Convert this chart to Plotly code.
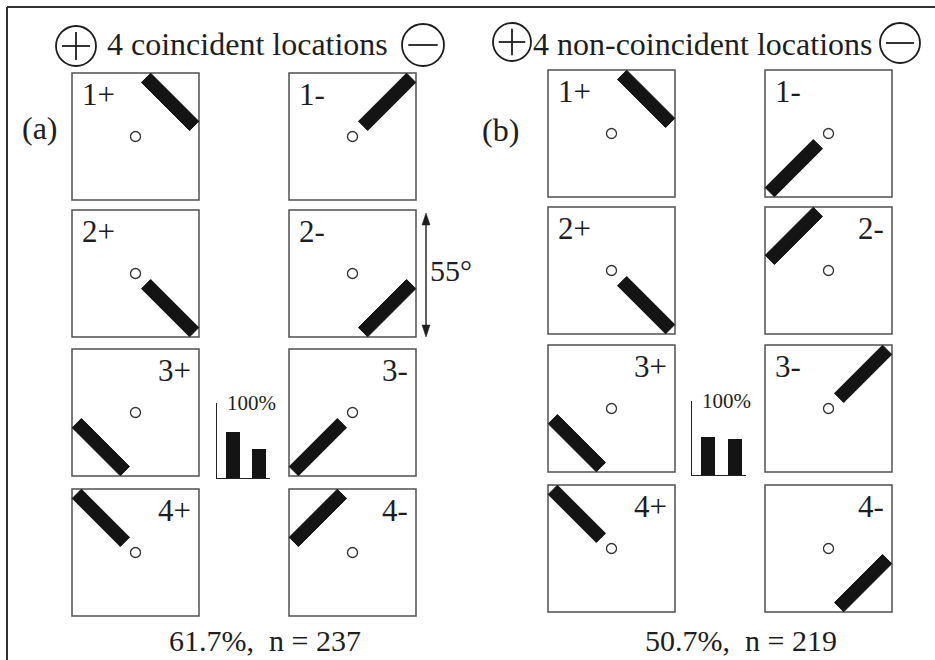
import math
import plotly.graph_objects as go

# ---------------- data ----------------
panel_letters = ["(a)", "(b)"]
panel_titles = ["4 coincident locations", "4 non-coincident locations"]

condition_labels = ["1+", "1-", "2+", "2-", "3+", "3-", "4+", "4-"]

coincident_quadrant = ["UR", "UR", "LR", "LR", "LL", "LL", "UL", "UL"]
coincident_orientation = ["tangential", "radial", "radial", "tangential",
                          "tangential", "radial", "radial", "tangential"]
coincident_label_side = ["left", "left", "left", "left", "right", "right", "right", "right"]

noncoincident_quadrant = ["UR", "LL", "LR", "UL", "LL", "UR", "UL", "LR"]
noncoincident_orientation = ["tangential", "radial", "radial", "tangential",
                             "tangential", "radial", "radial", "tangential"]
noncoincident_label_side = ["left", "left", "left", "right", "right", "left", "right", "right"]

coincident_bar_values = [61.7, 38.3]
noncoincident_bar_values = [50.7, 49.3]
bar_categories = [0, 1]

summary_percent = [61.7, 50.7]
summary_n = [237, 219]
field_size_label = "55°"
bar_scale_label = "100%"

# ---------------- layout constants ----------------
W, H = 935, 660
BOX = 127
grid_x = [[72, 289], [548, 765]]
grid_y = [[73, 210, 349, 489], [70, 207, 345, 485]]
mini_axes = [dict(x0=217, x1=270, y0=403, y1=478), dict(x0=692, x1=746, y0=401, y1=475)]

FONT = "Liberation Serif, Times New Roman, serif"
INK = "#1e1e1e"
BOXLINE = "#505050"

QVEC = {"UR": (1, -1), "LR": (1, 1), "LL": (-1, 1), "UL": (-1, -1)}

fig = go.Figure()
shapes = []
annotations = []

def bar_path(cx, cy, ux, uy, hl=34, hw=6.5):
    vx, vy = -uy, ux
    pts = [(cx + ux * hl + vx * hw, cy + uy * hl + vy * hw),
           (cx + ux * hl - vx * hw, cy + uy * hl - vy * hw),
           (cx - ux * hl - vx * hw, cy - uy * hl - vy * hw),
           (cx - ux * hl + vx * hw, cy - uy * hl + vy * hw)]
    return "M " + " L ".join(f"{x:.2f},{y:.2f}" for x, y in pts) + " Z"

panels = [
    (coincident_quadrant, coincident_orientation, coincident_label_side),
    (noncoincident_quadrant, noncoincident_orientation, noncoincident_label_side),
]

fix_x, fix_y = [], []
for p, (quads, orients, sides) in enumerate(panels):
    for i, lab in enumerate(condition_labels):
        row, col = i // 2, i % 2
        left = grid_x[p][col]
        top = grid_y[p][row]
        shapes.append(dict(type="rect", xref="x", yref="y", x0=left, x1=left + BOX,
                           y0=top, y1=top + BOX, line=dict(color=BOXLINE, width=1.5)))
        cx, cy = left + BOX / 2, top + BOX / 2
        fix_x.append(cx)
        fix_y.append(cy)
        dx, dy = QVEC[quads[i]]
        n = math.hypot(dx, dy)
        dx, dy = dx / n, dy / n
        if orients[i] == "radial":
            ux, uy = dx, dy
        else:
            ux, uy = -dy, dx
        bx, by = cx + 49 * dx, cy + 49 * dy
        shapes.append(dict(type="path", xref="x", yref="y", path=bar_path(bx, by, ux, uy),
                           fillcolor="#141414", line=dict(color="#141414", width=1)))
        if sides[i] == "left":
            annotations.append(dict(x=left + 8, y=top + 21, xref="x", yref="y", text=lab,
                                    xanchor="left", yanchor="middle", showarrow=False,
                                    font=dict(family=FONT, size=31, color=INK)))
        else:
            annotations.append(dict(x=left + BOX - 6, y=top + 21, xref="x", yref="y", text=lab,
                                    xanchor="right", yanchor="middle", showarrow=False,
                                    font=dict(family=FONT, size=31, color=INK)))

# fixation points
fig.add_trace(go.Scatter(x=fix_x, y=fix_y, mode="markers", xaxis="x", yaxis="y",
                         marker=dict(symbol="circle-open", size=10, color="#333",
                                     line=dict(width=1.3, color="#333")),
                         hoverinfo="skip", showlegend=False))

# mini bar charts
for p, vals in enumerate([coincident_bar_values, noncoincident_bar_values]):
    ax = mini_axes[p]
    k = p + 2
    fig.add_trace(go.Bar(x=bar_categories, y=vals, xaxis=f"x{k}", yaxis=f"y{k}",
                         marker=dict(color="#141414", line=dict(width=0)),
                         width=0.53, hoverinfo="skip", showlegend=False))
    fig.layout[f"xaxis{k}"] = dict(domain=[ax["x0"] / W, ax["x1"] / W], anchor=f"y{k}",
                                   range=[-0.6, 1.4], showline=True, linecolor="#222",
                                   linewidth=1.2, showticklabels=False, ticks="",
                                   showgrid=False, zeroline=False, fixedrange=True)
    fig.layout[f"yaxis{k}"] = dict(domain=[(H - ax["y1"]) / H, (H - ax["y0"]) / H],
                                   anchor=f"x{k}", range=[0, 100], showline=True,
                                   linecolor="#222", linewidth=1.2, ticks="inside",
                                   ticklen=9, tickwidth=1.2, tickcolor="#222",
                                   tickvals=[100], showticklabels=False, showgrid=False,
                                   zeroline=False, fixedrange=True)
    annotations.append(dict(x=0.15, y=100, xref=f"x{k} domain", yref=f"y{k}",
                            text=bar_scale_label, xanchor="left", yanchor="middle",
                            showarrow=False, font=dict(family=FONT, size=21, color=INK)))

# titles with circled plus / minus
title_specs = [
    dict(tx=247, plus=(76, 46, 20), minus=(423, 45, 21)),
    dict(tx=702, plus=(512, 42, 19), minus=(900, 43, 20)),
]
for p, spec in enumerate(title_specs):
    annotations.append(dict(x=spec["tx"], y=44, xref="x", yref="y", text=panel_titles[p],
                            xanchor="center", yanchor="middle", showarrow=False,
                            font=dict(family=FONT, size=32, color=INK)))
    for key in ("plus", "minus"):
        cx, cy, r = spec[key]
        shapes.append(dict(type="circle", xref="x", yref="y", x0=cx - r, x1=cx + r,
                           y0=cy - r, y1=cy + r, line=dict(color=INK, width=1.8)))
        shapes.append(dict(type="line", xref="x", yref="y", x0=cx - 0.7 * r, x1=cx + 0.7 * r,
                           y0=cy, y1=cy, line=dict(color=INK, width=1.8)))
        if key == "plus":
            shapes.append(dict(type="line", xref="x", yref="y", x0=cx, x1=cx,
                               y0=cy - 0.7 * r, y1=cy + 0.7 * r, line=dict(color=INK, width=1.8)))

# panel letters
for p, (px, py) in enumerate([(40, 128), (500, 130)]):
    annotations.append(dict(x=px, y=py, xref="x", yref="y", text=panel_letters[p],
                            xanchor="center", yanchor="middle", showarrow=False,
                            font=dict(family=FONT, size=32, color=INK)))

# summary text
for p, cx in enumerate([265, 741]):
    annotations.append(dict(x=cx, y=640, xref="x", yref="y",
                            text=f"{summary_percent[p]}%,\u00a0 n = {summary_n[p]}",
                            xanchor="center", yanchor="middle", showarrow=False,
                            font=dict(family=FONT, size=30, color=INK)))

# 55 degree arrow
ax_x, ay0, ay1 = 426, 213, 337
shapes.append(dict(type="line", xref="x", yref="y", x0=ax_x, x1=ax_x, y0=ay0 + 6, y1=ay1 - 6,
                   line=dict(color=INK, width=1.4)))
shapes.append(dict(type="path", xref="x", yref="y",
                   path=f"M {ax_x},{ay0} L {ax_x-4},{ay0+12} L {ax_x+4},{ay0+12} Z",
                   fillcolor=INK, line=dict(color=INK, width=0.5)))
shapes.append(dict(type="path", xref="x", yref="y",
                   path=f"M {ax_x},{ay1} L {ax_x-4},{ay1-12} L {ax_x+4},{ay1-12} Z",
                   fillcolor=INK, line=dict(color=INK, width=0.5)))
annotations.append(dict(x=451, y=270, xref="x", yref="y", text=field_size_label,
                        xanchor="center", yanchor="middle", showarrow=False,
                        font=dict(family=FONT, size=30, color=INK)))

# outer frame (left and top)
shapes.append(dict(type="line", xref="x", yref="y", x0=7, x1=7, y0=7, y1=H + 5,
                   line=dict(color="#333", width=2)))
shapes.append(dict(type="line", xref="x", yref="y", x0=7, x1=W + 5, y0=7, y1=7,
                   line=dict(color="#333", width=2)))

fig.update_layout(
    width=W, height=H, margin=dict(l=0, r=0, t=0, b=0),
    paper_bgcolor="white", plot_bgcolor="rgba(0,0,0,0)",
    xaxis=dict(domain=[0, 1], range=[0, W], visible=False, fixedrange=True),
    yaxis=dict(domain=[0, 1], range=[H, 0], visible=False, fixedrange=True),
    shapes=shapes, annotations=annotations, showlegend=False, bargap=0,
)

fig.write_html("out.html", config={"displayModeBar": False, "staticPlot": True},
               post_script="document.body.style.margin='0px';document.body.style.overflow='hidden';")
